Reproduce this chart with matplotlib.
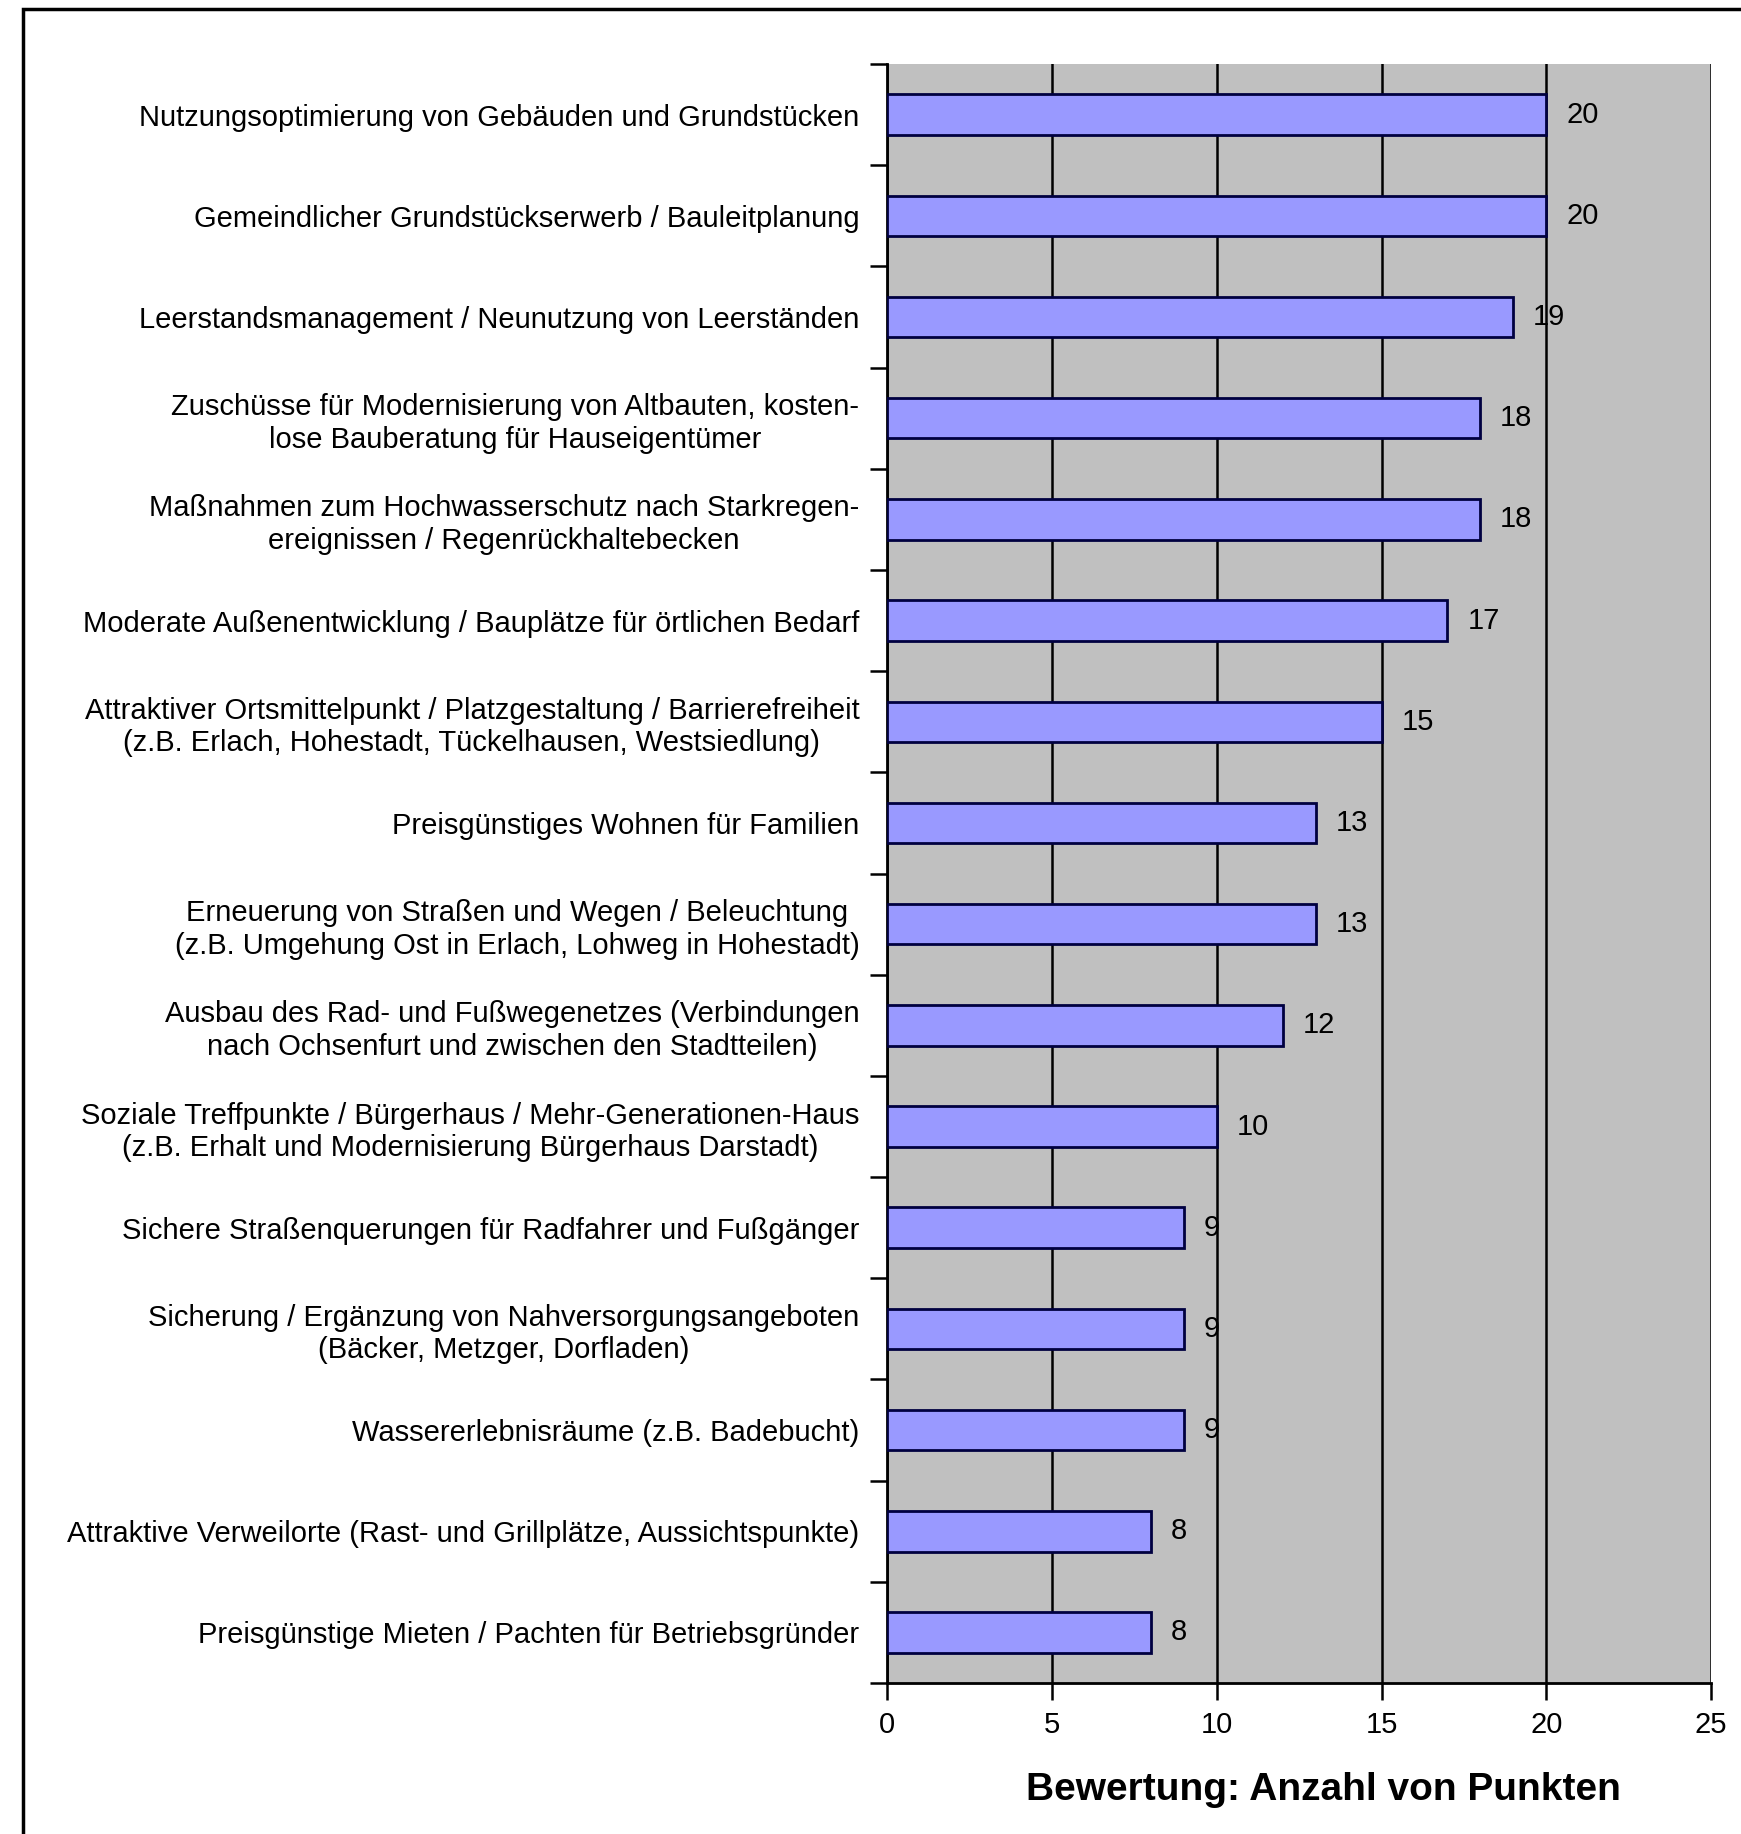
import numpy as np
import matplotlib
matplotlib.use("Agg")
import matplotlib.pyplot as plt
from matplotlib.patches import Rectangle

plt.rcParams['font.family'] = ['Liberation Sans', 'DejaVu Sans']

# Daten (von oben nach unten)
massnahmen = [
    "Nutzungsoptimierung von Gebäuden und Grundstücken",
    "Gemeindlicher Grundstückserwerb / Bauleitplanung",
    "Leerstandsmanagement / Neunutzung von Leerständen",
    "Zuschüsse für Modernisierung von Altbauten, kosten-\nlose Bauberatung für Hauseigentümer",
    "Maßnahmen zum Hochwasserschutz nach Starkregen-\nereignissen / Regenrückhaltebecken",
    "Moderate Außenentwicklung / Bauplätze für örtlichen Bedarf",
    "Attraktiver Ortsmittelpunkt / Platzgestaltung / Barrierefreiheit\n(z.B. Erlach, Hohestadt, Tückelhausen, Westsiedlung)",
    "Preisgünstiges Wohnen für Familien",
    "Erneuerung von Straßen und Wegen / Beleuchtung\n(z.B. Umgehung Ost in Erlach, Lohweg in Hohestadt)",
    "Ausbau des Rad- und Fußwegenetzes (Verbindungen\nnach Ochsenfurt und zwischen den Stadtteilen)",
    "Soziale Treffpunkte / Bürgerhaus / Mehr-Generationen-Haus\n(z.B. Erhalt und Modernisierung Bürgerhaus Darstadt)",
    "Sichere Straßenquerungen für Radfahrer und Fußgänger",
    "Sicherung / Ergänzung von Nahversorgungsangeboten\n(Bäcker, Metzger, Dorfladen)",
    "Wassererlebnisräume (z.B. Badebucht)",
    "Attraktive Verweilorte (Rast- und Grillplätze, Aussichtspunkte)",
    "Preisgünstige Mieten / Pachten für Betriebsgründer",
]
punkte = [20, 20, 19, 18, 18, 17, 15, 13, 13, 12, 10, 9, 9, 9, 8, 8]
x_ticks = [0, 5, 10, 15, 20, 25]

fig = plt.figure(figsize=(17.41, 18.34), dpi=100)
ax = fig.add_axes([0.5095, 0.0823, 0.4734, 0.8828])

# Rahmen um das Diagramm
fig.patches.append(Rectangle((0.0132, -0.2), 1.5, 1.195, transform=fig.transFigure,
                             fill=False, edgecolor='black', linewidth=2.5))

n = len(massnahmen)
pos = np.arange(n)
ax.set_facecolor('#C0C0C0')
ax.barh(pos, punkte, height=0.4, color='#9999FF', edgecolor='#000040',
        linewidth=2, zorder=3)
ax.set_ylim(n - 0.5, -0.5)
ax.set_xlim(0, 25)

# Gitterlinien
ax.set_xticks(x_ticks)
ax.xaxis.grid(True, color='black', linewidth=1.8, zorder=1)
ax.set_axisbelow(True)

# Wertbeschriftungen
for p, v in zip(pos, punkte):
    ax.text(v + 0.6, p, str(v), va='center', ha='left', fontsize=21, zorder=4)

# Achsen
ax.set_yticks(pos)
ax.set_yticklabels(massnahmen, fontsize=21)
for t in ax.get_yticklabels():
    t.set_multialignment('center')
ax.set_yticks(np.arange(n + 1) - 0.5, minor=True)
ax.tick_params(axis='y', which='major', length=0, pad=20)
ax.tick_params(axis='y', which='minor', length=12, width=1.8, direction='out')
ax.tick_params(axis='x', length=12, width=1.8, direction='out', labelsize=21, pad=8)

for s in ['left', 'bottom']:
    ax.spines[s].set_linewidth(2)
for s in ['top', 'right']:
    ax.spines[s].set_visible(False)

ax.set_xlabel("Bewertung: Anzahl von Punkten", fontsize=28, fontweight='bold')
ax.xaxis.set_label_coords(0.53, -0.055)

fig.savefig("out.png", dpi=100)
